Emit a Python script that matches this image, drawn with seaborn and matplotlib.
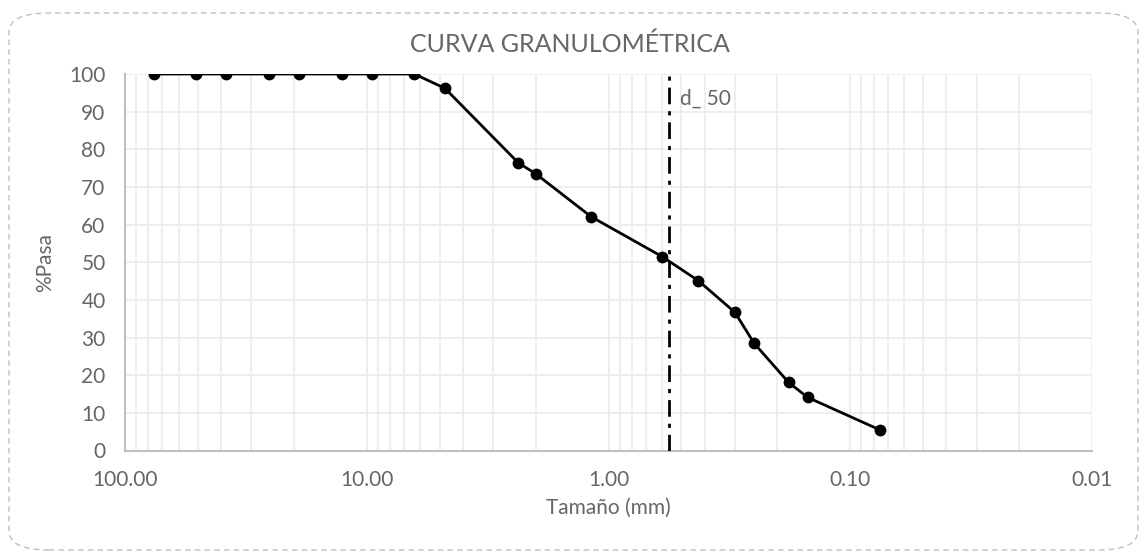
import numpy as np
import pandas as pd
import seaborn as sns
import matplotlib
matplotlib.use("Agg")
import matplotlib.pyplot as plt
from matplotlib.patches import FancyBboxPatch
from matplotlib.ticker import FixedLocator, FixedFormatter, NullFormatter

# ---- data ----
tamano_mm = [76.2, 50.8, 38.1, 25.4, 19.05, 12.7, 9.525, 6.35, 4.75, 2.36, 2.00,
             1.18, 0.60, 0.425, 0.30, 0.25, 0.18, 0.15, 0.075]
pasa = [100, 100, 100, 100, 100, 100, 100, 100, 96.2, 76.4, 73.5,
        62.1, 51.5, 45.1, 36.7, 28.5, 18.1, 14.1, 5.4]
d50 = 0.56
x_ticks = [100, 10, 1, 0.1, 0.01]
x_tick_labels = ["100.00", "10.00", "1.00", "0.10", "0.01"]
y_ticks = list(range(0, 101, 10))
title = "CURVA GRANULOMÉTRICA"
x_label = "Tamaño (mm)"
y_label = "%Pasa"
d50_label = "d_ 50"

df = pd.DataFrame({"tamano": tamano_mm, "pasa": pasa})

sns.set_theme(style="white")
plt.rcParams["font.family"] = ["Lato", "DejaVu Sans"]

TXT = "#666666"
GRID = "#EDEDED"
SPINE = "#BFBFBF"

fig = plt.figure(figsize=(11.4, 5.52), dpi=100)
ax = fig.add_axes([125/1140, 1 - 450.5/552, (1092-125)/1140, (450.5-74)/552])

# grid lines (major + minor decades)
minor = [m * 10.0**e for e in range(-2, 2) for m in range(2, 10)]
for v in minor:
    ax.axvline(v, color=GRID, lw=1.3, zorder=0)
for v in x_ticks:
    ax.axvline(v, color=GRID, lw=1.3, zorder=0)
for v in y_ticks:
    ax.axhline(v, color=GRID, lw=1.3, zorder=0)

sns.lineplot(data=df, x="tamano", y="pasa", ax=ax, color="black", lw=2,
             marker="o", markersize=8.5, markeredgewidth=0, sort=False, zorder=3)

ax.axvline(d50, color="black", lw=2, linestyle=(0, (6, 2.5, 1.5, 2.5)), zorder=4)
ax.annotate(d50_label, xy=(d50, 93.4), xytext=(8, 0), textcoords="offset points",
            ha="left", va="center", fontsize=15, color=TXT)

ax.set_xscale("log")
ax.set_xlim(100, 0.01)
ax.set_ylim(0, 100)
ax.xaxis.set_major_locator(FixedLocator(x_ticks))
ax.xaxis.set_major_formatter(FixedFormatter(x_tick_labels))
ax.xaxis.set_minor_formatter(NullFormatter())
ax.set_yticks(y_ticks)
ax.tick_params(axis="both", which="both", length=0, labelsize=15, colors=TXT)
ax.tick_params(axis="x", pad=14)
ax.tick_params(axis="y", pad=14)

for s in ["top", "right"]:
    ax.spines[s].set_visible(False)
for s in ["left", "bottom"]:
    ax.spines[s].set_color(SPINE)
    ax.spines[s].set_linewidth(1.5)

ax.set_xlabel(x_label, fontsize=15, color=TXT, labelpad=6)
ax.set_ylabel(y_label, fontsize=15, color=TXT, labelpad=10)
ax.grid(False)

fig.text(0.5, 1 - 44/552, title, ha="center", va="center", fontsize=18, color=TXT)

border = FancyBboxPatch((9/1140, 2/552), 1129/1140, 537/552,
                        boxstyle="round,pad=0,rounding_size=0.035",
                        transform=fig.transFigure, fill=False,
                        edgecolor="#BFBFBF", lw=1.0, linestyle=(0, (4, 3)))
fig.patches.append(border)

fig.savefig("out.png", dpi=100)
